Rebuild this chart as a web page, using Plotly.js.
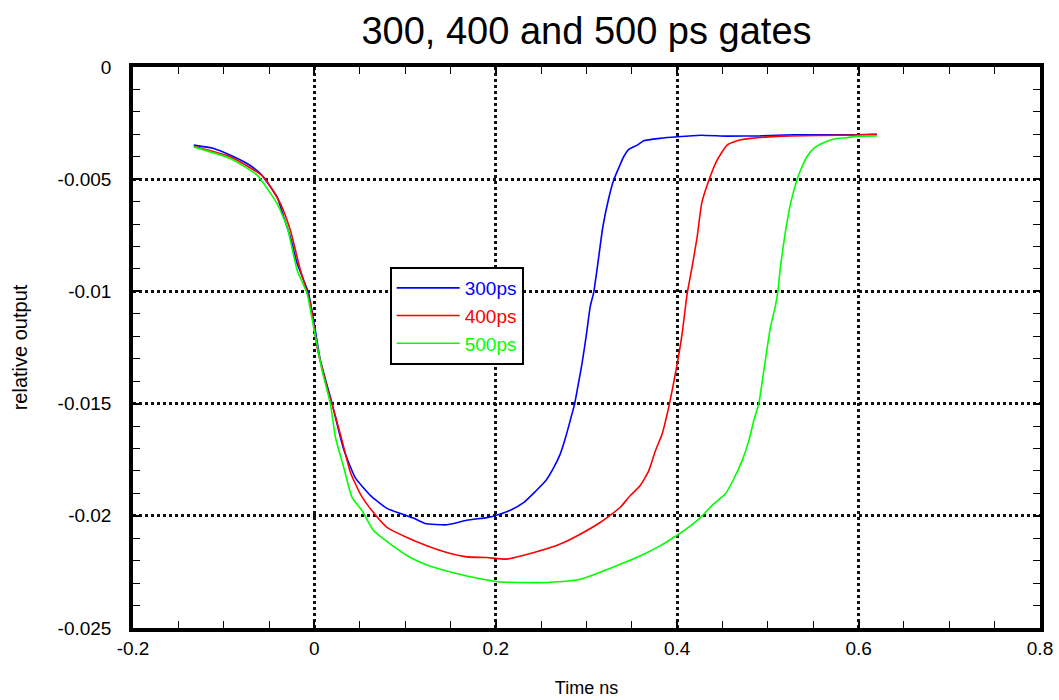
<!DOCTYPE html>
<html>
<head>
<meta charset="utf-8">
<script src="https://cdn.plot.ly/plotly-3.0.1.min.js"></script>
<style>html,body{margin:0;padding:0;background:#fff;}#chart{width:1059px;height:700px;}</style>
</head>
<body>
<div id="chart"></div>
<script>
// ---- data ----
const seriesNames = ["300ps", "400ps", "500ps"];

const x300 = [-0.133, -0.111, -0.0926, -0.0742, -0.0595, -0.0485, -0.0411, -0.0338, -0.0265, -0.019, -0.0118, -0.0063, -0.0008, 0.0066, 0.0195, 0.032, 0.045, 0.062, 0.080, 0.095, 0.109, 0.122, 0.146, 0.168, 0.190, 0.199, 0.216, 0.231, 0.244, 0.255, 0.264, 0.271, 0.277, 0.282, 0.287, 0.291, 0.295, 0.300, 0.304, 0.308, 0.312, 0.318, 0.324, 0.330, 0.336, 0.341, 0.3466, 0.356, 0.363, 0.381, 0.400, 0.426, 0.455, 0.492, 0.528, 0.565, 0.598, 0.62];
const y300 = [-0.00348, -0.00363, -0.00393, -0.0043, -0.00475, -0.00534, -0.00579, -0.00668, -0.00758, -0.00876, -0.0095, -0.0101, -0.0113, -0.01308, -0.0150, -0.0170, -0.0183, -0.0191, -0.01967, -0.0199, -0.0201, -0.02034, -0.0204, -0.0202, -0.02008, -0.0200, -0.01975, -0.0194, -0.0189, -0.01844, -0.01784, -0.01725, -0.0165, -0.01576, -0.0150, -0.01412, -0.01323, -0.01189, -0.0107, -0.01003, -0.00891, -0.00713, -0.00594, -0.00504, -0.00445, -0.0040, -0.00367, -0.00348, -0.00329, -0.00318, -0.00311, -0.00304, -0.00308, -0.00307, -0.00302, -0.00302, -0.00302, -0.00300];

const x400 = [-0.133, -0.0926, -0.056, -0.0375, -0.0265, -0.0154, -0.0044, 0.003, 0.014, 0.0213, 0.0305, 0.0397, 0.0507, 0.0636, 0.080, 0.102, 0.124, 0.146, 0.168, 0.190, 0.212, 0.242, 0.271, 0.293, 0.315, 0.337, 0.348, 0.359, 0.3686, 0.376, 0.3834, 0.389, 0.3944, 0.400, 0.4054, 0.411, 0.4164, 0.422, 0.427, 0.435, 0.444, 0.455, 0.468, 0.481, 0.5175, 0.56, 0.60, 0.62];
const y400 = [-0.00353, -0.0040, -0.0049, -0.00609, -0.00728, -0.00906, -0.01055, -0.01249, -0.01427, -0.0153, -0.01665, -0.01807, -0.01903, -0.01978, -0.02052, -0.02097, -0.02134, -0.02164, -0.02183, -0.02186, -0.02193, -0.02164, -0.02126, -0.02082, -0.0203, -0.01963, -0.01911, -0.01866, -0.0180, -0.0171, -0.01635, -0.01546, -0.01442, -0.01323, -0.01189, -0.0101, -0.00891, -0.00758, -0.00608, -0.00504, -0.00415, -0.00348, -0.00326, -0.00318, -0.00308, -0.00305, -0.00303, -0.00300];

const x500 = [-0.133, -0.0926, -0.0632, -0.0411, -0.030, -0.019, -0.008, -0.0008, 0.0085, 0.0176, 0.0232, 0.0323, 0.0415, 0.0526, 0.0654, 0.0838, 0.1058, 0.124, 0.146, 0.168, 0.190, 0.205, 0.227, 0.257, 0.293, 0.337, 0.359, 0.381, 0.399, 0.4146, 0.4256, 0.440, 0.453, 0.4623, 0.4716, 0.479, 0.4844, 0.490, 0.4955, 0.5028, 0.508, 0.511, 0.5138, 0.519, 0.525, 0.532, 0.536, 0.543, 0.5505, 0.560, 0.5726, 0.587, 0.60, 0.62];
const y500 = [-0.00356, -0.00408, -0.00482, -0.00609, -0.00713, -0.00906, -0.0101, -0.0116, -0.01353, -0.0150, -0.0165, -0.01784, -0.01918, -0.01978, -0.02067, -0.02126, -0.02186, -0.02219, -0.02246, -0.02268, -0.02286, -0.02295, -0.02297, -0.02297, -0.02283, -0.02216, -0.02179, -0.02134, -0.02089, -0.02045, -0.02008, -0.01948, -0.01903, -0.01836, -0.01754, -0.01665, -0.01576, -0.0150, -0.01353, -0.01159, -0.0107, -0.0100, -0.00891, -0.00743, -0.00608, -0.00504, -0.0046, -0.0040, -0.00363, -0.0034, -0.00321, -0.00315, -0.00308, -0.00307];

const xTickVals = [-0.2, 0, 0.2, 0.4, 0.6, 0.8];
const xTickText = ["-0.2", "0", "0.2", "0.4", "0.6", "0.8"];
const yTickVals = [0, -0.005, -0.01, -0.015, -0.02, -0.025];
const yTickText = ["0", "-0.005", "-0.01", "-0.015", "-0.02", "-0.025"];

const colors = ["#0000ff", "#ff0000", "#00ff00"];
const FONT = "Liberation Sans, Arial, sans-serif";

const xs = [x300, x400, x500];
const ys = [y300, y400, y500];
const traces = seriesNames.map((n, i) => ({
  type: "scatter", mode: "lines",
  x: xs[i], y: ys[i],
  name: '<span style="color:' + colors[i] + '">' + n + '</span>',
  line: {color: colors[i], width: 1.6, shape: "spline", smoothing: 0.5}
}));

const axisCommon = {
  showline: true, linecolor: "black", linewidth: 3.5, mirror: "allticks",
  ticks: "inside", ticklen: 7, tickwidth: 1.5, tickcolor: "black",
  showgrid: true, gridcolor: "#111", gridwidth: 2.5, griddash: "dot",
  zeroline: false, tickmode: "array",
  tickfont: {family: FONT, size: 19, color: "black"}
};

const layout = {
  width: 1059, height: 700,
  margin: {l: 133, r: 19, t: 67, b: 72},
  paper_bgcolor: "white", plot_bgcolor: "white",
  font: {family: FONT, color: "black"},
  title: {text: "300, 400 and 500 ps gates", font: {family: FONT, size: 38, color: "black"},
          x: 0.5, xref: "paper", xanchor: "center", y: 0.956, yref: "container", yanchor: "middle"},
  xaxis: Object.assign({}, axisCommon, {
    range: [-0.2, 0.8], tickvals: xTickVals, ticktext: xTickText,
    minor: {dtick: 0.05, ticks: "inside", ticklen: 7, tickwidth: 1.3, tickcolor: "black"},
    title: {text: "Time ns", font: {family: FONT, size: 18}, standoff: 25}
  }),
  yaxis: Object.assign({}, axisCommon, {
    range: [-0.025, 0], tickvals: yTickVals, ticktext: yTickText,
    ticklabelstandoff: 14,
    minor: {tickmode: "linear", tick0: 0, dtick: 0.001, ticks: "inside", ticklen: 7, tickwidth: 1.3, tickcolor: "black"},
    title: {text: "relative output", font: {family: FONT, size: 20}, standoff: 26}
  }),
  showlegend: true,
  legend: {x: 0.283, y: 0.6435, xanchor: "left", yanchor: "top",
           bgcolor: "white", bordercolor: "black", borderwidth: 2,
           font: {family: FONT, size: 19}, itemwidth: 63, tracegroupgap: 0}
};

Plotly.newPlot("chart", traces, layout, {displayModeBar: false});
</script>
</body>
</html>
